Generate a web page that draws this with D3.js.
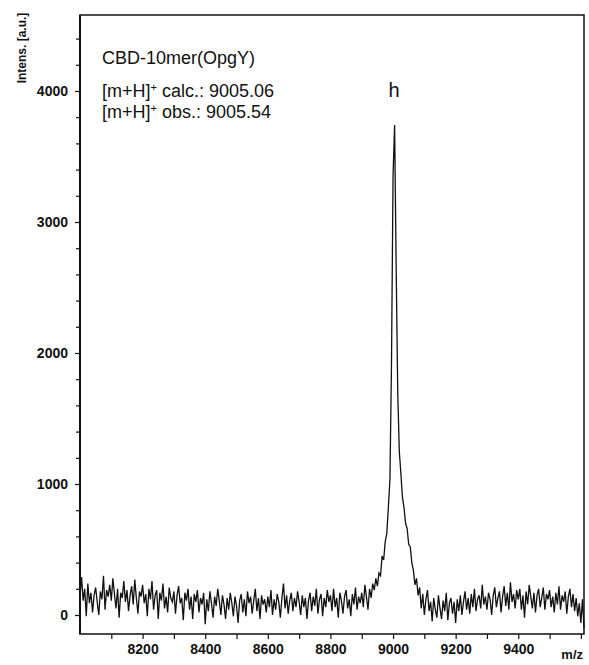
<!DOCTYPE html>
<html><head><meta charset="utf-8">
<script src="https://cdn.jsdelivr.net/npm/d3@7"></script>
<style>body{margin:0;background:#fff}svg{display:block}</style>
</head><body>
<svg id="c" width="589" height="665"></svg>
<script>
// m/z sampling of the spectrum
const mzStart = 8000, mzStep = 5;
// intensities [a.u.], 8000 .. 9610 every 5
const intensity = [
 150,290,110,200,-10,240,90,170,20,150,210,100,0,180,120,300,40,190,140,230,
 110,280,160,50,200,-20,170,130,260,100,190,30,150,220,80,270,130,10,180,140,
 230,90,160,-10,200,120,260,40,150,190,-30,170,110,240,50,140,20,210,130,100,
 180,10,150,220,90,130,-40,170,110,200,40,140,-30,160,100,190,20,130,80,170,
 -70,120,30,180,90,-20,140,70,200,110,0,150,80,-30,130,40,170,90,-10,140,
 70,-60,110,160,20,120,-10,180,90,140,10,110,200,30,130,-30,150,80,120,20,
 140,60,190,0,120,40,160,100,-20,130,240,50,150,10,110,170,30,130,60,180,
 100,0,150,60,130,-30,110,170,30,140,70,200,10,120,160,-10,130,60,190,100,
 150,30,200,60,130,-20,170,110,10,140,190,50,120,-10,160,80,210,40,140,90,
 170,60,230,140,40,200,130,240,
 190,280,220,320,300,450,420,560,620,820,1030,1900,3350,3740,2650,1700,1250,1080,900,820,700,660,540,520,400,340,230,280,150,
 210,50,160,0,120,190,30,100,-50,130,40,-20,150,50,-30,110,30,170,-40,90,130,10,100,
 -60,120,30,150,0,100,180,40,130,10,160,60,200,30,120,150,50,230,80,140,
 40,170,120,0,150,210,60,130,180,20,140,220,70,170,40,250,100,160,50,190,
 120,200,40,150,-20,180,80,230,140,50,170,20,150,200,60,130,210,40,160,120,
 190,60,140,20,170,80,220,40,150,100,180,10,140,200,60,160,30,130,-10,90,
 -60,120,-100
];
const xDomain = [8000, 9610];
const yDomain = [-145, 4580];
const xTickLabels = [8200, 8400, 8600, 8800, 9000, 9200, 9400];
const xMinorTicks = [8100,8200,8300,8400,8500,8600,8700,8800,8900,9000,9100,9200,9300,9400,9500,9600];
const yTickLabels = [0, 1000, 2000, 3000, 4000];
const yMinorTicks = [200,400,600,800,1200,1400,1600,1800,2200,2400,2600,2800,3200,3400,3600,3800,4200,4400];
const title = "CBD-10mer(OpgY)";
const calcText = "9005.06", obsText = "9005.54";
const peakLabel = "h", peakMz = 9003, peakLabelValue = 4000;

const svg = d3.select("#c");
const L = 80, R = 584, T = 15, B = 634;
const x = d3.scaleLinear().domain(xDomain).range([L, R]);
const y = d3.scaleLinear().domain(yDomain).range([B, T]);
const data = intensity.map((v, i) => [mzStart + i * mzStep, v]);

// spectrum
svg.append("path").datum(data)
  .attr("fill", "none").attr("stroke", "#111").attr("stroke-width", 1.3)
  .attr("stroke-linejoin", "miter")
  .attr("d", d3.line().x(d => x(d[0])).y(d => y(d[1])));

// frame
svg.append("path").attr("fill", "none").attr("stroke", "#111").attr("stroke-width", 1.5)
  .attr("d", `M${L},${B}H${R}V${T}H${L}Z`);
svg.append("line").attr("x1", L).attr("x2", L).attr("y1", T).attr("y2", B)
  .attr("stroke", "#111").attr("stroke-width", 2);

// axes
const xAxis = svg.append("g").attr("transform", `translate(0,${B})`)
  .call(d3.axisBottom(x).tickValues(xMinorTicks).tickSize(5).tickFormat(""));
const xLab = svg.append("g").attr("transform", `translate(0,${B})`)
  .call(d3.axisBottom(x).tickValues(xTickLabels).tickSize(0).tickPadding(10).tickFormat(d3.format("d")));
const yAxis = svg.append("g").attr("transform", `translate(${L},0)`)
  .call(d3.axisLeft(y).tickValues(yTickLabels).tickSize(5).tickPadding(7).tickFormat(d3.format("d")));
const yMin = svg.append("g").attr("transform", `translate(${L},0)`)
  .call(d3.axisLeft(y).tickValues(yMinorTicks).tickSize(4).tickFormat(""));
[xAxis, xLab, yAxis, yMin].forEach(g => {
  g.select(".domain").remove();
  g.selectAll("line").attr("stroke", "#111").attr("stroke-width", 1.2);
  g.selectAll("text").attr("fill", "#111")
    .style("font-family", "Liberation Sans, Arial, sans-serif")
    .style("font-weight", "bold").style("font-size", "14px");
});

svg.append("text").attr("x", 583).attr("y", 659).attr("text-anchor", "end")
  .style("font-family", "Liberation Sans, Arial, sans-serif").style("font-weight", "bold")
  .style("font-size", "13px").attr("fill", "#111").text("m/z");

svg.append("text").attr("transform", "translate(26,48) rotate(-90)")
  .attr("text-anchor", "middle")
  .style("font-family", "Liberation Sans, Arial, sans-serif").style("font-weight", "bold")
  .style("font-size", "12px").attr("fill", "#111").text("Intens. [a.u.]");

// annotations
const ann = svg.append("g").style("font-family", "Liberation Sans, Arial, sans-serif")
  .style("font-size", "18px").attr("fill", "#111");
ann.append("text").attr("x", 102).attr("y", 64).text(title);
function ionLine(yy, word, val) {
  const t = ann.append("text").attr("x", 102).attr("y", yy);
  t.append("tspan").text("[m+H]");
  t.append("tspan").attr("dy", -6).style("font-size", "11px").text("+");
  t.append("tspan").attr("dy", 6).text(" " + word + ": " + val);
}
ionLine(97, "calc.", calcText);
ionLine(118, "obs.", obsText);

svg.append("text").attr("x", x(peakMz)).attr("y", y(peakLabelValue) + 6)
  .attr("text-anchor", "middle")
  .style("font-family", "Liberation Sans, Arial, sans-serif").style("font-size", "20px")
  .attr("fill", "#111").text(peakLabel);
</script>
</body></html>
